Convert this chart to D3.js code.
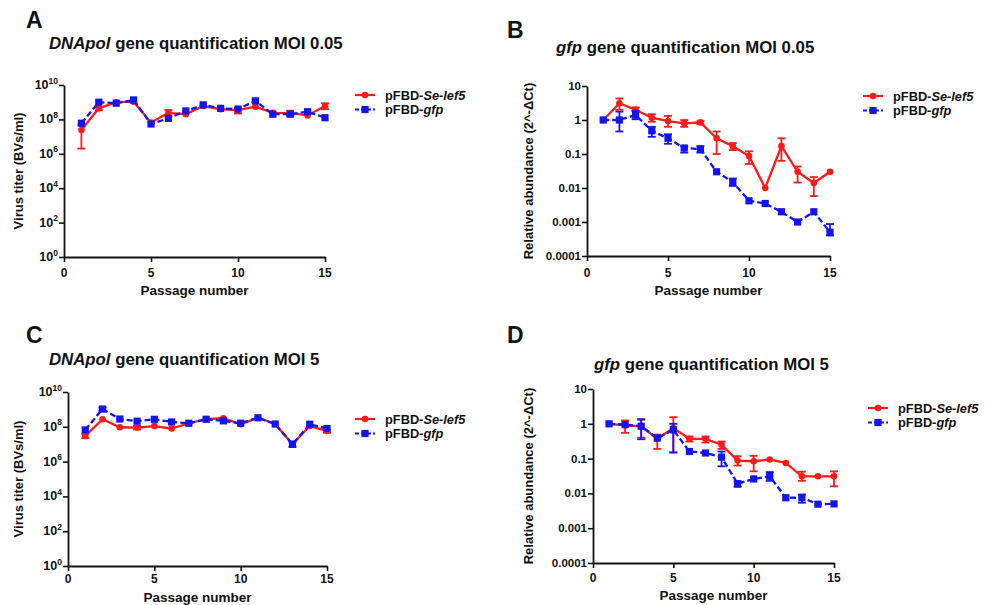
<!DOCTYPE html>
<html>
<head>
<meta charset="utf-8">
<script src="https://cdn.jsdelivr.net/npm/d3@7"></script>
<style>
  html, body { margin: 0; padding: 0; background: #fff; }
  svg { display: block; font-family: "Liberation Sans", Arial, sans-serif; }
</style>
</head>
<body>
<svg id="fig" width="994" height="605"></svg>
<script>
// Passage numbers shared by all four panels
const passages = [1, 2, 3, 4, 5, 6, 7, 8, 9, 10, 11, 12, 13, 14, 15];
const xTicks = [0, 5, 10, 15];

// Tick values for the two kinds of y axis
const titerTicks = [1, 1e2, 1e4, 1e6, 1e8, 1e10];
const titerExponents = ["0", "2", "4", "6", "8", "10"];
const abundanceTicks = [0.0001, 0.001, 0.01, 0.1, 1, 10];
const abundanceLabels = ["0.0001", "0.001", "0.01", "0.1", "1", "10"];

// A: DNApol titer, MOI 0.05 (BVs/ml)
const titerLowLef5 = [2.4e7, 4.4e8, 1.0e9, 1.07e9, 6.5e7, 2.4e8, 2.0e8, 6.0e8, 3.9e8, 3.5e8, 5.5e8, 2.4e8, 2.3e8, 1.7e8, 6.0e8];
const titerLowLef5Min = [2e6, 3.4e8, null, null, null, 1.5e8, null, null, null, 2.2e8, null, null, 1.6e8, null, 3.9e8];
const titerLowLef5Max = [4.6e7, 5.4e8, null, null, null, 3.5e8, null, null, null, 4.6e8, null, null, 3.2e8, null, 8.7e8];
const titerLowGfp = [6.0e7, 1.0e9, 8.7e8, 1.35e9, 5.4e7, 1.15e8, 3.1e8, 7.0e8, 4.4e8, 4.0e8, 1.2e9, 2.0e8, 2.0e8, 2.8e8, 1.25e8];

// B: gfp relative abundance, MOI 0.05
const abundLowLef5 = [1.0, 3.1, 2.0, 1.17, 0.93, 0.8, 0.85, 0.29, 0.17, 0.087, 0.01, 0.17, 0.03, 0.014, 0.03];
const abundLowLef5Min = [null, 2.0, 1.8, 0.89, 0.63, 0.63, 0.75, 0.1, 0.13, 0.051, null, 0.063, 0.0145, 0.0058, null];
const abundLowLef5Max = [null, 4.3, 2.35, 1.48, 1.32, 1.0, 0.92, 0.46, 0.21, 0.12, null, 0.29, 0.043, 0.021, null];
const abundLowGfp = [1.0, 1.0, 1.4, 0.48, 0.29, 0.15, 0.14, 0.03, 0.015, 0.0042, 0.0035, 0.002, 0.001, 0.002, 0.0005];
const abundLowGfpMin = [null, 0.46, 1.05, 0.32, 0.2, 0.11, 0.11, null, 0.0115, null, null, null, null, null, 0.0004];
const abundLowGfpMax = [null, 1.76, 1.87, 0.63, 0.38, 0.17, 0.17, null, 0.019, null, null, null, null, null, 0.00087];

// C: DNApol titer, MOI 5 (BVs/ml)
const titerHighLef5 = [3.0e7, 2.7e8, 9.4e7, 9.0e7, 1.1e8, 8.0e7, 1.6e8, 2.8e8, 3.1e8, 1.4e8, 3.3e8, 1.45e8, 1.0e7, 1.1e8, 5.8e7];
const titerHighLef5Min = [2.2e7, null, null, 7.0e7, null, null, null, null, null, null, null, null, null, null, 4.6e7];
const titerHighLef5Max = [4.0e7, null, null, 1.15e8, null, null, null, null, null, null, null, null, null, null, 7.2e7];
const titerHighGfp = [6.6e7, 1.05e9, 2.8e8, 2.1e8, 2.7e8, 1.9e8, 1.6e8, 2.7e8, 2.2e8, 1.6e8, 3.3e8, 1.45e8, 1.0e7, 1.4e8, 8.0e7];
const titerHighGfpMin = [null, 8.0e8, null, null, null, null, null, null, null, null, null, null, 7.0e6, null, null];
const titerHighGfpMax = [null, 1.3e9, null, null, null, null, null, null, null, null, null, null, 1.4e7, null, null];

// D: gfp relative abundance, MOI 5
const abundHighLef5 = [1.0, 0.9, 0.85, 0.37, 0.75, 0.37, 0.37, 0.25, 0.088, 0.084, 0.094, 0.075, 0.031, 0.031, 0.031];
const abundHighLef5Min = [null, 0.55, 0.4, 0.19, 0.15, 0.31, 0.29, 0.19, 0.063, 0.043, null, null, 0.023, null, 0.016];
const abundHighLef5Max = [null, 1.24, 1.3, 0.49, 1.55, 0.43, 0.43, 0.31, 0.117, 0.12, null, null, 0.042, null, 0.043];
const abundHighGfp = [1.0, 0.95, 0.85, 0.39, 0.67, 0.16, 0.145, 0.11, 0.019, 0.026, 0.031, 0.0075, 0.0075, 0.0049, 0.005];
const abundHighGfpMin = [null, null, 0.36, null, 0.15, null, null, 0.06, 0.0155, null, 0.023, null, 0.0054, null, null];
const abundHighGfpMax = [null, null, 1.36, null, 1.0, null, null, 0.16, 0.022, null, 0.041, null, 0.0093, null, null];

const RED = "#ff1a1a";
const BLUE = "#1414f0";

const svg = d3.select("#fig");

const panels = [
  { letter: "A", letterPos: [26, 28], gene: "DNApol", rest: " gene quantification MOI 0.05", titlePos: [49, 49],
    x: [64, 325], y: [257, 85], kind: "titer",
    yTitle: "Virus titer (BVs/ml)", yTitleX: 18, xTitleY: 295, xLabelY: 277,
    legend: [355, 95],
    lef5: [titerLowLef5, titerLowLef5Min, titerLowLef5Max],
    gfp: [titerLowGfp, null, null] },
  { letter: "B", letterPos: [507, 38], gene: "gfp", rest: " gene quantification MOI 0.05", titlePos: [556, 53],
    x: [587, 830], y: [256, 86], kind: "abund",
    yTitle: "Relative abundance (2^-ΔCt)", yTitleX: 528, xTitleY: 295, xLabelY: 277,
    legend: [863, 96],
    lef5: [abundLowLef5, abundLowLef5Min, abundLowLef5Max],
    gfp: [abundLowGfp, abundLowGfpMin, abundLowGfpMax] },
  { letter: "C", letterPos: [26, 343], gene: "DNApol", rest: " gene quantification MOI 5", titlePos: [49, 365],
    x: [68, 327], y: [566, 392], kind: "titer",
    yTitle: "Virus titer (BVs/ml)", yTitleX: 18, xTitleY: 602, xLabelY: 583,
    legend: [355, 419],
    lef5: [titerHighLef5, titerHighLef5Min, titerHighLef5Max],
    gfp: [titerHighGfp, titerHighGfpMin, titerHighGfpMax] },
  { letter: "D", letterPos: [507, 343], gene: "gfp", rest: " gene quantification MOI 5", titlePos: [594, 370],
    x: [593, 834], y: [563, 389], kind: "abund",
    yTitle: "Relative abundance (2^-ΔCt)", yTitleX: 528, xTitleY: 600, xLabelY: 582,
    legend: [868, 408],
    lef5: [abundHighLef5, abundHighLef5Min, abundHighLef5Max],
    gfp: [abundHighGfp, abundHighGfpMin, abundHighGfpMax] }
];

function drawMarker(g, type, cx, cy, color) {
  if (type === "circle") {
    g.append("circle").attr("cx", cx).attr("cy", cy).attr("r", 3.3).attr("fill", color);
  } else {
    g.append("rect").attr("x", cx - 3.6).attr("y", cy - 3.6).attr("width", 7.2).attr("height", 7.2).attr("fill", color);
  }
}

function drawSeries(g, x, y, vals, lo, hi, color, dashed, marker) {
  const pts = passages.map((p, i) => ({ p, v: vals[i], lo: lo ? lo[i] : null, hi: hi ? hi[i] : null }));
  // error bars
  const eb = g.append("g").attr("stroke", color).attr("stroke-width", 1.8);
  pts.filter(d => d.lo != null || d.hi != null).forEach(d => {
    const cx = x(d.p);
    const y1 = y(d.hi != null ? d.hi : d.v), y2 = y(d.lo != null ? d.lo : d.v);
    eb.append("line").attr("x1", cx).attr("x2", cx).attr("y1", y1).attr("y2", y2);
    if (d.hi != null) eb.append("line").attr("x1", cx - 4).attr("x2", cx + 4).attr("y1", y1).attr("y2", y1);
    if (d.lo != null) eb.append("line").attr("x1", cx - 4).attr("x2", cx + 4).attr("y1", y2).attr("y2", y2);
  });
  g.append("path")
    .datum(pts)
    .attr("fill", "none")
    .attr("stroke", color)
    .attr("stroke-width", 2.3)
    .attr("stroke-dasharray", dashed ? "6,3" : null)
    .attr("d", d3.line().x(d => x(d.p)).y(d => y(d.v)));
  pts.forEach(d => drawMarker(g, marker, x(d.p), y(d.v), color));
}

panels.forEach(pn => {
  const g = svg.append("g");
  const x = d3.scaleLinear().domain([0, 15]).range(pn.x);
  const y = d3.scaleLog().domain(pn.kind === "titer" ? [1, 1e10] : [1e-4, 10]).range(pn.y);

  // panel letter
  g.append("text").attr("x", pn.letterPos[0]).attr("y", pn.letterPos[1])
    .attr("font-size", 23).attr("font-weight", "bold").attr("fill", "#111").text(pn.letter);

  // title with italic gene name
  const t = g.append("text").attr("x", pn.titlePos[0]).attr("y", pn.titlePos[1])
    .attr("font-size", 16.8).attr("font-weight", "bold").attr("fill", "#111");
  t.append("tspan").attr("font-style", "italic").text(pn.gene);
  t.append("tspan").text(pn.rest);

  // x axis
  const xAxis = g.append("g").attr("transform", `translate(0,${pn.y[0]})`)
    .call(d3.axisBottom(x).tickValues(xTicks).tickSize(5).tickSizeOuter(0).tickFormat(d3.format("d")));
  xAxis.select(".domain").attr("stroke", "#111").attr("stroke-width", 1.8);
  xAxis.selectAll(".tick line").attr("stroke", "#111").attr("stroke-width", 1.6);
  xAxis.selectAll(".tick text").remove();
  g.append("g").selectAll("text").data(xTicks).join("text")
    .attr("x", d => x(d)).attr("y", pn.xLabelY).attr("text-anchor", "middle")
    .attr("font-size", 12).attr("font-weight", "bold").attr("fill", "#111").text(d => d);

  // y axis
  const ticks = pn.kind === "titer" ? titerTicks : abundanceTicks;
  const yAxis = g.append("g").attr("transform", `translate(${pn.x[0]},0)`)
    .call(d3.axisLeft(y).tickValues(ticks).tickSize(5).tickSizeOuter(0).tickFormat(""));
  yAxis.select(".domain").attr("stroke", "#111").attr("stroke-width", 1.8);
  yAxis.selectAll(".tick line").attr("stroke", "#111").attr("stroke-width", 1.6);
  yAxis.selectAll(".tick text").remove();
  const yl = g.append("g").selectAll("text").data(ticks).join("text")
    .attr("x", pn.x[0] - 6).attr("y", d => y(d) + 4).attr("text-anchor", "end")
    .attr("font-weight", "bold").attr("fill", "#111");
  if (pn.kind === "titer") {
    yl.attr("font-size", 12.5).each(function (d, i) {
      const s = d3.select(this);
      s.append("tspan").text("10");
      s.append("tspan").attr("dy", -5.5).attr("font-size", 8.5).text(titerExponents[i]);
    });
  } else {
    yl.attr("font-size", 11.5).text((d, i) => abundanceLabels[i]);
  }

  // axis titles
  g.append("text")
    .attr("transform", `translate(${pn.yTitleX},${(pn.y[0] + pn.y[1]) / 2}) rotate(-90)`)
    .attr("text-anchor", "middle").attr("dy", "0.35em")
    .attr("font-size", 13).attr("font-weight", "bold").attr("fill", "#111").text(pn.yTitle);
  g.append("text").attr("x", (pn.x[0] + pn.x[1]) / 2).attr("y", pn.xTitleY)
    .attr("text-anchor", "middle").attr("font-size", 13.5).attr("font-weight", "bold")
    .attr("fill", "#111").text("Passage number");

  // series
  const plot = g.append("g");
  drawSeries(plot, x, y, pn.lef5[0], pn.lef5[1], pn.lef5[2], RED, false, "circle");
  drawSeries(plot, x, y, pn.gfp[0], pn.gfp[1], pn.gfp[2], BLUE, true, "square");

  // legend
  const [lx, ly] = pn.legend;
  const entries = [
    { color: RED, dashed: false, marker: "circle", pre: "pFBD-", it: "Se-lef5" },
    { color: BLUE, dashed: true, marker: "square", pre: "pFBD-", it: "gfp" }
  ];
  entries.forEach((e, i) => {
    const yy = ly + i * 14.5;
    g.append("line").attr("x1", lx).attr("x2", lx + 20).attr("y1", yy).attr("y2", yy)
      .attr("stroke", e.color).attr("stroke-width", 2.2).attr("stroke-dasharray", e.dashed ? "4,2" : null);
    drawMarker(g, e.marker, lx + 10, yy, e.color);
    const tx = g.append("text").attr("x", lx + 30).attr("y", yy + 4.5)
      .attr("font-size", 12.8).attr("font-weight", "bold").attr("fill", "#111");
    tx.append("tspan").text(e.pre);
    tx.append("tspan").attr("font-style", "italic").text(e.it);
  });
});
</script>
</body>
</html>
